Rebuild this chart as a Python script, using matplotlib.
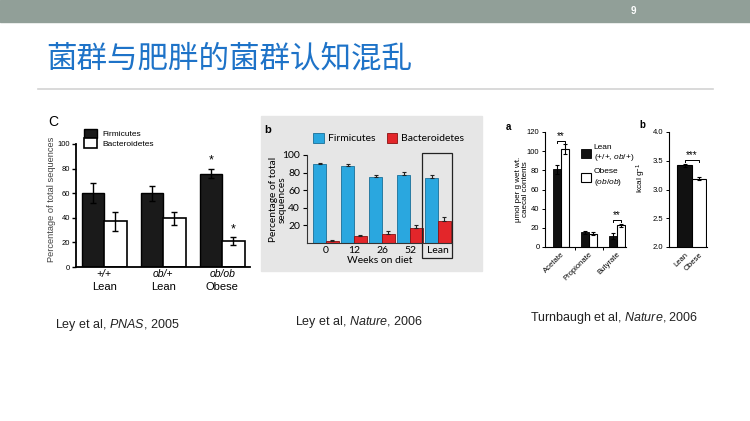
import numpy as np
import matplotlib.pyplot as plt
from matplotlib.patches import Rectangle

# fonts: latin text in Liberation Sans, italic pieces through mathtext
plt.rcParams['font.family'] = ['Liberation Sans', 'DejaVu Sans']
plt.rcParams['mathtext.fontset'] = 'custom'
plt.rcParams['mathtext.rm'] = 'Liberation Sans'
plt.rcParams['mathtext.it'] = 'Liberation Sans:italic'

W, H = 750, 421

# ---- data ----
# panel C (Ley et al, PNAS 2005)
p1_groups = ['+/+', 'ob/+', 'ob/ob']
p1_sub = ['Lean', 'Lean', 'Obese']
p1_firm = [60, 60, 76]
p1_firm_err = [8, 6, 4]
p1_bact = [37, 39.5, 21]
p1_bact_err = [8, 5.5, 3]

# panel b (Ley et al, Nature 2006)
p2_weeks = ['0', '12', '26', '52', 'Lean']
p2_firm = [89.5, 88, 74.5, 77.5, 73.5]
p2_firm_err = [1.5, 2, 3, 3, 4]
p2_bact = [2, 8, 10.5, 17.5, 24.5]
p2_bact_err = [1.5, 1.5, 3, 3.5, 4.5]

# panel a (Turnbaugh et al, Nature 2006)
p3_acids = ['Acetate', 'Propionate', 'Butyrate']
p3_lean = [81, 15.5, 11.5]
p3_lean_err = [5, 1.5, 3]
p3_obese = [102, 14, 22.5]
p3_obese_err = [5, 2, 2]

# panel b (Turnbaugh et al, Nature 2006)
p4_groups = ['Lean', 'Obese']
p4_kcal = [3.42, 3.19]
p4_kcal_err = [0.03, 0.02]


def box(x0, y0, x1, y1):
    # pixel box (top-left origin) -> figure fraction rect
    return [x0 / W, 1 - y1 / H, (x1 - x0) / W, (y1 - y0) / H]


def ftext(x, y, s, **kw):
    return fig.text(x / W, 1 - y / H, s, **kw)


fig = plt.figure(figsize=(7.5, 4.21), dpi=100)

# ---- slide decoration ----
fig.patches.append(Rectangle((0, 1 - 22 / H), 1, 22 / H, transform=fig.transFigure,
                             color='#919f98', zorder=-2))
ftext(633, 11, '9', color='white', fontsize=7, fontweight='bold', ha='center', va='center')
ftext(46, 59, '菌群与肥胖的菌群认知混乱', fontsize=22, color='#1e73c8',
      family=['Noto Sans CJK SC', 'DejaVu Sans'], va='center')
fig.add_artist(plt.Line2D([38 / W, 713 / W], [1 - 89 / H] * 2, color='#d3d3d3', lw=1.2))

# ---- panel C ----
ax1 = fig.add_axes(box(76, 144, 250, 267))
x = np.arange(len(p1_groups))
ekw = dict(ecolor='black', capsize=2, elinewidth=1, capthick=1)
b1 = ax1.bar(x - 0.19, p1_firm, 0.38, color='#1a1a1a', edgecolor='black', lw=1,
             yerr=p1_firm_err, error_kw=ekw, label='Firmicutes')
b2 = ax1.bar(x + 0.19, p1_bact, 0.38, color='white', edgecolor='black', lw=1.2,
             yerr=p1_bact_err, error_kw=ekw, label='Bacteroidetes')
ax1.set_xlim(-0.475, 2.47)
ax1.set_ylim(0, 100)
for s in ['top', 'right']:
    ax1.spines[s].set_visible(False)
for s in ['left', 'bottom']:
    ax1.spines[s].set_linewidth(1.3)
ax1.set_yticks(range(0, 101, 20))
ax1.tick_params(axis='y', labelsize=5.5, length=3, width=1, pad=1.5)
ax1.set_xticks(x)
ax1.set_xticklabels([])
ax1.tick_params(axis='x', length=0)
for i in range(len(p1_groups)):
    ax1.text(i, -1.5, p1_groups[i], ha='center', va='top', style='italic', fontsize=7.5)
    ax1.text(i, -12, p1_sub[i], ha='center', va='top', fontsize=8)
ax1.set_ylabel('Percentage of total sequences', fontsize=6.7, color='#444444')
ax1.yaxis.set_label_coords(-0.115, 0.55)
# significance stars on ob/ob
ax1.text(2 - 0.19, p1_firm[2] + p1_firm_err[2] + 1.5, '*', ha='center', va='bottom', fontsize=9)
ax1.text(2 + 0.19, p1_bact[2] + p1_bact_err[2] + 1.5, '*', ha='center', va='bottom', fontsize=9)
ax1.legend(loc='upper left', bbox_to_anchor=(84 / W, 1 - 129 / H), bbox_transform=fig.transFigure,
           frameon=False, fontsize=6, handlelength=1.6, handleheight=1.35, labelspacing=0.0,
           handletextpad=0.6, borderpad=0, borderaxespad=0)
ftext(53, 122, 'C', fontsize=10, ha='center', va='center')

# ---- panel b (Nature 2006) ----
fig.patches.append(Rectangle((261 / W, 1 - 271 / H), (482 - 261) / W, (271 - 116) / H,
                             transform=fig.transFigure, color='#e6e6e6', zorder=-2))
lato = ['Lato', 'DejaVu Sans']
ax2 = fig.add_axes(box(307, 155, 452, 243))
ax2.set_facecolor('none')
x2 = np.arange(len(p2_weeks))
ekw2 = dict(ecolor='#222222', capsize=1.5, elinewidth=0.8, capthick=0.8)
ax2.bar(x2 - 0.225, p2_firm, 0.45, color='#2aa7df', edgecolor='#1a6f98', lw=0.6,
        yerr=[np.zeros(5), p2_firm_err], error_kw=ekw2, label='Firmicutes')
ax2.bar(x2 + 0.225, p2_bact, 0.45, color='#e3262a', edgecolor='#8a1010', lw=0.6,
        yerr=[np.zeros(5), p2_bact_err], error_kw=ekw2, label='Bacteroidetes')
ax2.set_xlim(-0.68, 4.5)
ax2.set_ylim(0, 100)
for s in ['top', 'right']:
    ax2.spines[s].set_visible(False)
for s in ['left', 'bottom']:
    ax2.spines[s].set_linewidth(0.8)
    ax2.spines[s].set_color('#333333')
ax2.set_yticks(range(20, 101, 20))
ax2.set_xticks(x2)
ax2.set_xticklabels(p2_weeks, family=lato, fontsize=7.5)
ax2.set_yticklabels([str(v) for v in range(20, 101, 20)], family=lato, fontsize=7.5)
ax2.tick_params(axis='x', length=0, pad=2)
ax2.tick_params(axis='y', length=3, width=0.8, pad=2)
ax2.set_xlabel('Weeks on diet', family=lato, fontsize=7.5, labelpad=1)
ax2.set_ylabel('Percentage of total\nsequences', family=lato, fontsize=7.3, linespacing=0.9)
ax2.yaxis.set_label_coords(-0.14, 0.49)
ax2.add_patch(Rectangle((4 - 0.57, -17), 1.07, 119, fill=False, lw=0.9,
                        edgecolor='#222222', clip_on=False))
ax2.legend(loc='upper left', bbox_to_anchor=(313 / W, 1 - 133 / H), bbox_transform=fig.transFigure,
           ncol=2, frameon=False, prop={'family': lato, 'size': 7.5}, handlelength=1.05,
           handleheight=1.05, handletextpad=0.35, columnspacing=1.1, borderpad=0, borderaxespad=0)
ftext(268, 130, 'b', fontsize=8, fontweight='bold', ha='center', va='center')

# ---- panel a (Turnbaugh) ----
ax3 = fig.add_axes(box(545, 132, 626, 247))
x3 = np.arange(len(p3_acids))
ekw3 = dict(ecolor='black', capsize=1.5, elinewidth=0.8, capthick=0.8)
ax3.bar(x3 - 0.14, p3_lean, 0.28, color='#111111', edgecolor='black', lw=0.6,
        yerr=p3_lean_err, error_kw=ekw3, label='Lean\n(+/+, $\\it{ob}$/+)')
ax3.bar(x3 + 0.14, p3_obese, 0.28, color='white', edgecolor='black', lw=0.8,
        yerr=p3_obese_err, error_kw=ekw3, label='Obese\n($\\it{ob/ob}$)')
ax3.set_xlim(-0.57, 2.32)
ax3.set_ylim(0, 120)
for s in ['top', 'right']:
    ax3.spines[s].set_visible(False)
for s in ['left', 'bottom']:
    ax3.spines[s].set_linewidth(0.8)
ax3.set_yticks(range(0, 121, 20))
ax3.tick_params(axis='y', labelsize=5.5, length=2.5, width=0.7, pad=1.5)
ax3.set_xticks(x3)
ax3.set_xticklabels(p3_acids, rotation=45, ha='right', rotation_mode='anchor', fontsize=5.5)
ax3.tick_params(axis='x', which='major', length=0, pad=3)
ax3.set_xticks([0.5, 1.5], minor=True)
ax3.tick_params(axis='x', which='minor', length=2.5, width=0.7)
ax3.set_ylabel('μmol per g wet wt.\ncaecal contents', fontsize=5.8, linespacing=1.0)
ax3.yaxis.set_label_coords(-0.2, 0.5)
# significance brackets
for i in [0, 2]:
    top = max(p3_lean[i] + p3_lean_err[i], p3_obese[i] + p3_obese_err[i]) + 4
    ax3.plot([i - 0.14, i - 0.14, i + 0.14, i + 0.14], [top - 2, top, top, top - 2], color='black', lw=0.7)
    ax3.text(i, top, '**', ha='center', va='bottom', fontsize=7)
ax3.legend(loc='upper left', bbox_to_anchor=(581 / W, 1 - 144 / H), bbox_transform=fig.transFigure,
           frameon=False, fontsize=6, handlelength=1.2, handleheight=1.3, labelspacing=0.6,
           handletextpad=0.3, borderpad=0, borderaxespad=0)
ftext(508, 127, 'a', fontsize=7, fontweight='bold', ha='center', va='center')

# ---- panel b (Turnbaugh) ----
ax4 = fig.add_axes(box(669, 132, 707, 247))
x4 = np.arange(len(p4_groups))
ax4.bar(x4, p4_kcal, 1.0, color=['#111111', 'white'], edgecolor='black', lw=0.8,
        yerr=p4_kcal_err, error_kw=ekw3)
ax4.set_xlim(-1.07, 1.55)
ax4.set_ylim(2, 4)
for s in ['top', 'right']:
    ax4.spines[s].set_visible(False)
for s in ['left', 'bottom']:
    ax4.spines[s].set_linewidth(0.8)
ax4.set_yticks(np.arange(2, 4.01, 0.5))
ax4.set_yticklabels(['%.1f' % v for v in np.arange(2, 4.01, 0.5)])
ax4.tick_params(axis='y', labelsize=5.5, length=2.5, width=0.7, pad=1.5)
ax4.set_xticks(x4)
ax4.set_xticklabels(p4_groups, rotation=45, ha='right', rotation_mode='anchor', fontsize=5.5)
ax4.tick_params(axis='x', length=0, pad=3)
ax4.set_ylabel('kcal g$^{-1}$', fontsize=6)
ax4.yaxis.set_label_coords(-0.55, 0.6)
top4 = max(np.array(p4_kcal) + np.array(p4_kcal_err)) + 0.07
ax4.plot([0, 0, 1, 1], [top4 - 0.04, top4, top4, top4 - 0.04], color='black', lw=0.7)
ax4.text(0.5, top4, '***', ha='center', va='bottom', fontsize=7)
ftext(642, 125, 'b', fontsize=7, fontweight='bold', ha='center', va='center')

# ---- captions ----
ftext(55, 325, 'Ley et al, $\\it{PNAS}$, 2005', fontsize=9, va='center', color='#222222')
ftext(295, 322, 'Ley et al, $\\it{Nature}$, 2006', fontsize=9, va='center', color='#222222')
ftext(530, 318, 'Turnbaugh et al, $\\it{Nature}$, 2006', fontsize=9, va='center', color='#222222')

fig.savefig('out.png', dpi=100)
